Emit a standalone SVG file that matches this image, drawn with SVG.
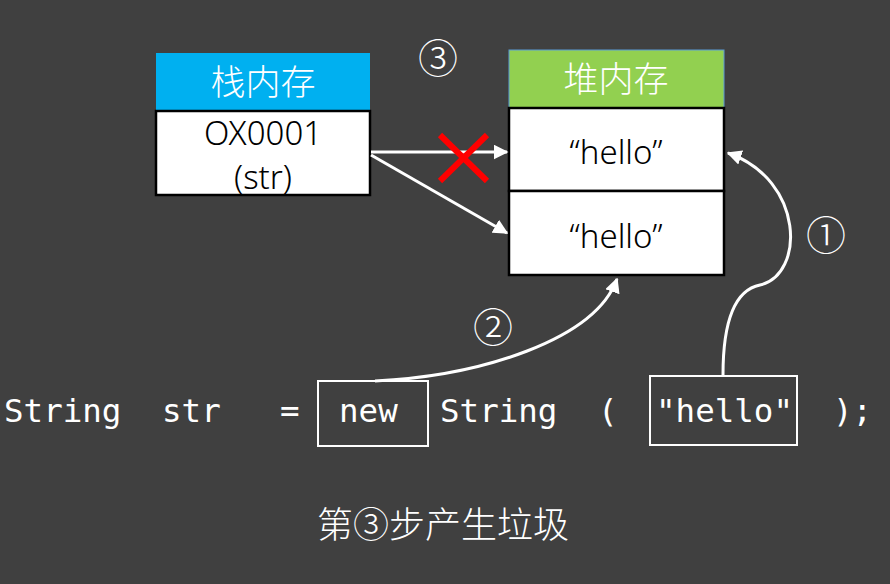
<svg xmlns="http://www.w3.org/2000/svg" width="890" height="584" viewBox="0 0 890 584">
<defs>
<marker id="ah" viewBox="0 0 10 10" refX="9" refY="5" markerWidth="5" markerHeight="5" orient="auto-start-reverse" markerUnits="strokeWidth"><path d="M0,0 L10,5 L0,10 z" fill="#fff"/></marker>
<style>
.cell{fill:#fff;stroke:#000;stroke-width:2.5}
.hd{font-family:"Noto Sans CJK SC","Noto Sans",sans-serif;font-size:35px;font-weight:300;fill:#fff;text-anchor:middle}
.bt{font-family:"Noto Sans","Noto Sans CJK SC",sans-serif;font-size:33px;font-weight:300;fill:#000;text-anchor:middle}
.code{font-family:"DejaVu Sans Mono","Liberation Mono",monospace;font-size:32.5px;fill:#fff}
.num{font-family:"Noto Sans CJK SC",sans-serif;font-size:40px;font-weight:300;fill:#fff;text-anchor:middle}
.con{fill:none;stroke:#fff;stroke-width:3}
.box{fill:none;stroke:#fff;stroke-width:2}
</style>
</defs>
<rect width="890" height="584" fill="#404040"/>
<g id="stack">
<rect x="156" y="53" width="214" height="58" fill="#00b0f0"/>
<text class="hd" x="263" y="95">栈内存</text>
<rect class="cell" x="156" y="111" width="214" height="84"/>
<text class="bt" x="263" y="145">OX0001</text>
<text class="bt" x="263" y="189">(str)</text>
</g>
<g id="heap">
<rect x="509" y="50" width="215" height="58" fill="#92d050" stroke="#5b9bd5" stroke-width="1"/>
<text class="hd" x="616" y="92">堆内存</text>
<rect class="cell" x="509" y="108" width="215" height="83"/>
<text class="bt" x="616" y="164">“hello”</text>
<rect class="cell" x="509" y="191" width="215" height="84"/>
<text class="bt" x="616" y="248">“hello”</text>
</g>
<g id="connectors">
<line class="con" x1="371" y1="152" x2="507" y2="152" marker-end="url(#ah)"/>
<line class="con" x1="371" y1="155" x2="507" y2="233" marker-end="url(#ah)"/>
<path class="con" d="M723,375 C723,320 735,290 760,285 C805,275 805,180 728,153" marker-end="url(#ah)"/>
<path class="con" d="M375,381 C480,376 595,340 617,279" marker-end="url(#ah)"/>
</g>
<g id="cross" stroke="#ff0000" stroke-width="6">
<line x1="440" y1="135" x2="487" y2="181"/>
<line x1="487" y1="135" x2="440" y2="181"/>
</g>
<g id="labels">
<text class="num" x="438" y="73">③</text>
<text class="num" x="826" y="250">①</text>
<text class="num" x="493" y="342">②</text>
</g>
<g id="code">
<rect class="box" x="318" y="381" width="110" height="65"/>
<rect class="box" x="650" y="376" width="147" height="69"/>
<text class="code" x="4" y="422">String</text>
<text class="code" x="162" y="422">str</text>
<text class="code" x="280" y="422">=</text>
<text class="code" x="339" y="422">new</text>
<text class="code" x="440" y="422">String</text>
<text class="code" x="598" y="422">(</text>
<text class="code" x="656" y="422">"hello"</text>
<text class="code" x="833" y="422">);</text>
</g>
<text id="caption" x="443" y="538" font-family="Noto Sans CJK SC,sans-serif" font-size="36" font-weight="300" fill="#fff" text-anchor="middle">第③步产生垃圾</text>
</svg>
